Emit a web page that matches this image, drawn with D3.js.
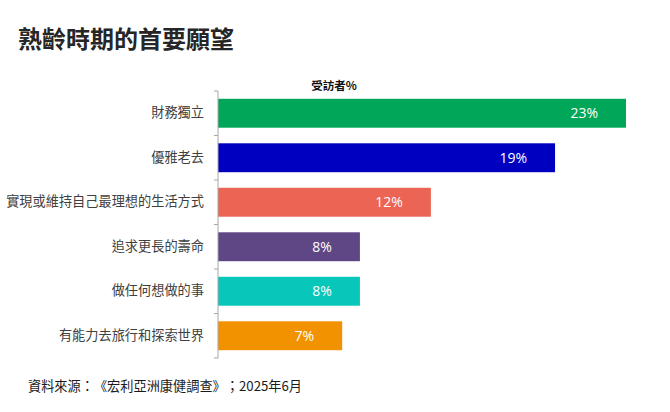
<!DOCTYPE html>
<html>
<head>
<meta charset="utf-8">
<script src="https://cdn.jsdelivr.net/npm/d3@7"></script>
<style>
html,body{margin:0;padding:0;background:#fff;}
svg{display:block;}
text{text-spacing-trim:space-all;}
</style>
</head>
<body>
<svg id="chart" width="670" height="412"></svg>
<script>
const categories = ["財務獨立","優雅老去","實現或維持自己最理想的生活方式","追求更長的壽命","做任何想做的事","有能力去旅行和探索世界"];
const values = [23,19,12,8,8,7];
const colors = ["#00A758","#0000C1","#EC6453","#5F4786","#06C7BA","#F39200"];
const title = "熟齡時期的首要願望";
const seriesLabel = "受訪者%";
const source = "資料來源：《宏利亞洲康健調查》；2025年6月";

const svg = d3.select("#chart");
const cjk = "'Noto Sans CJK TC','Noto Sans CJK SC',sans-serif";
const num = "'Open Sans','Noto Sans',sans-serif";

const x = d3.scaleLinear().domain([0, 23]).range([218, 626]);
const y = d3.scaleBand().domain(categories).range([91, 358]).paddingInner(0.35).paddingOuter(0.175);

svg.append("text").attr("x", 18).attr("y", 48)
  .style("font-family", cjk).style("font-size", "24px").style("font-weight", "bold")
  .attr("fill", "#262626").text(title);

svg.append("text").attr("x", 334).attr("y", 90).attr("text-anchor", "middle")
  .style("font-family", cjk).style("font-size", "11.5px").style("font-weight", "bold")
  .attr("fill", "#111").text(seriesLabel);

const data = categories.map((c, i) => ({c, v: values[i], col: colors[i]}));

svg.selectAll("rect.bar").data(data).join("rect").attr("class", "bar")
  .attr("x", x(0)).attr("y", d => y(d.c))
  .attr("width", d => x(d.v) - x(0)).attr("height", y.bandwidth())
  .attr("fill", d => d.col);

svg.selectAll("text.val").data(data).join("text").attr("class", "val")
  .attr("x", d => x(d.v) - 28).attr("y", d => y(d.c) + y.bandwidth() / 2)
  .attr("dy", "0.36em").attr("text-anchor", "end")
  .style("font-family", num).style("font-size", "14px")
  .attr("fill", "#fff").text(d => d.v + "%");

// axis with labels
const axis = svg.append("g").attr("transform", `translate(${x(0)},0)`)
  .call(d3.axisLeft(y).tickSize(0).tickPadding(14));
axis.select(".domain").remove();
axis.selectAll("text").style("font-family", cjk).style("font-size", "13.2px").attr("fill", "#404040");

// axis line and boundary ticks
const step = y.step();
const boundaries = d3.range(categories.length + 1).map(i => y.range()[0] + i * step);
svg.append("line").attr("x1", x(0)).attr("x2", x(0))
  .attr("y1", boundaries[0]).attr("y2", boundaries[boundaries.length - 1])
  .attr("stroke", "#a6a6a6").attr("stroke-width", 1);
svg.selectAll("line.tk").data(boundaries).join("line").attr("class", "tk")
  .attr("x1", x(0) - 4).attr("x2", x(0)).attr("y1", d => d).attr("y2", d => d)
  .attr("stroke", "#a6a6a6").attr("stroke-width", 1);

svg.append("text").attr("x", 28).attr("y", 391)
  .style("font-family", cjk).style("font-size", "13.2px")
  .attr("fill", "#1a1a1a").text(source);
</script>
</body>
</html>
